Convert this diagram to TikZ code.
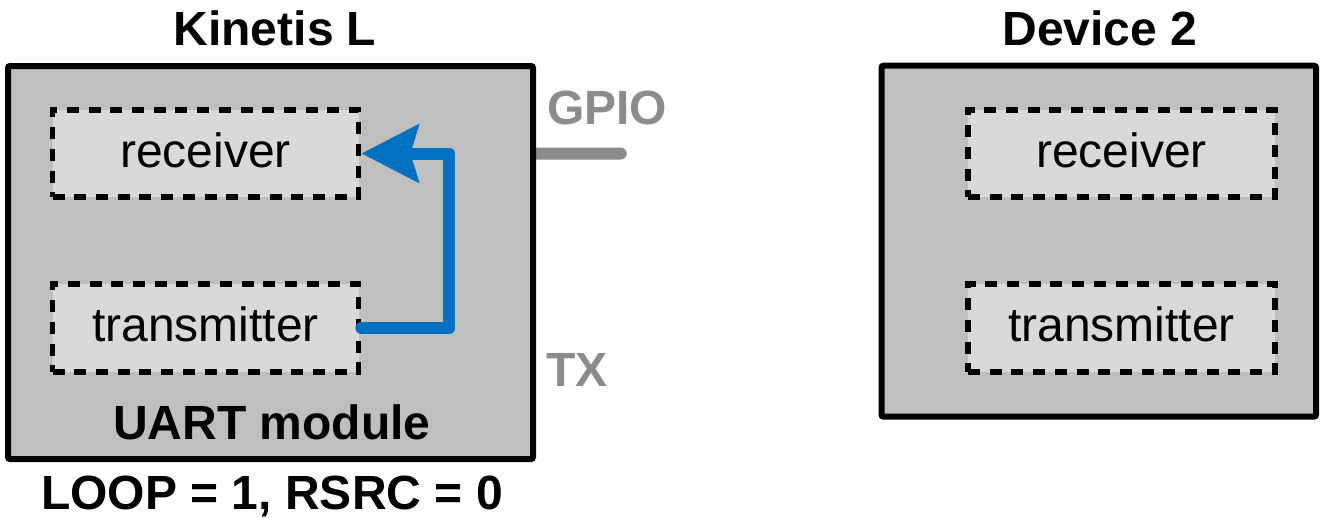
\documentclass[tikz,border=0pt]{standalone}
\usepackage{fontspec}
\setmainfont{Liberation Sans}
\usetikzlibrary{arrows.meta,positioning}
\pgfdeclarelayer{background}
\pgfsetlayers{background,main}
\definecolor{outerfill}{RGB}{191,191,191}
\definecolor{innerfill}{RGB}{217,217,217}
\definecolor{arrowblue}{RGB}{0,112,192}
\definecolor{signalgray}{RGB}{140,140,140}
\tikzset{
  chipbox/.style={draw=black, line width=6pt, fill=outerfill, rounded corners=2pt, inner sep=0pt},
  unitbox/.style={draw=black, line width=5.5pt, fill=innerfill, line cap=butt,
    dash pattern=on 12pt off 9.7pt, inner sep=0pt, minimum width=306pt, minimum height=87pt,
    font=\fontsize{48}{58}\selectfont, text height=27pt, text depth=0pt},
  titletext/.style={anchor=base, font=\fontsize{48}{58}\selectfont\bfseries, inner sep=0pt},
  sigtext/.style={anchor=base west, font=\fontsize{48}{58}\selectfont\bfseries, text=signalgray, inner sep=0pt},
  loopline/.style={draw=arrowblue, line width=12pt, line cap=round, line join=round,
    -{Stealth[length=57pt,width=57pt,inset=8pt]}},
  gpioline/.style={draw=signalgray, line width=12pt, line cap=round}
}
\begin{document}
\begin{tikzpicture}[x=1pt,y=-1pt]
\useasboundingbox (0,0) rectangle (1322,517);
% chips
\node[chipbox, minimum width=525pt, minimum height=393pt] (kin) at (270.5,262.5) {};
\node[chipbox, minimum width=434.5pt, minimum height=351pt] (dev) at (1098.75,241.2) {};
% units
\node[unitbox] (rxL) at (205.6,153.5) {receiver};
\node[unitbox, minimum height=88pt] (txL) at (205.6,328) {transmitter};
\node[unitbox, minimum width=307pt] (rxR) at (1121.5,153.5) {receiver};
\node[unitbox, minimum width=307pt, minimum height=88pt] (txR) at (1121.5,328) {transmitter};
% labels
\node[titletext] (kinT) at (275,45.7) {Kinetis L};
\node[titletext] (devT) at (1100,45.7) {Device 2};
\node[titletext] (uart) at (272,439) {UART module};
\node[titletext] (loop) at (272,509) {LOOP = 1, RSRC = 0};
\node[sigtext] (gpio) at (547,124) {GPIO};
\node[sigtext] (tx) at (546,386) {TX};
% connectors
\draw[loopline] (txL.east) -- ++(88,0) |- (rxL.east);
\begin{pgfonlayer}{background}
\coordinate (gpioEnd) at (620.7,153.6);
\draw[gpioline] (kin.east |- rxL.east) -- (gpioEnd);
\end{pgfonlayer}
\end{tikzpicture}
\end{document}
